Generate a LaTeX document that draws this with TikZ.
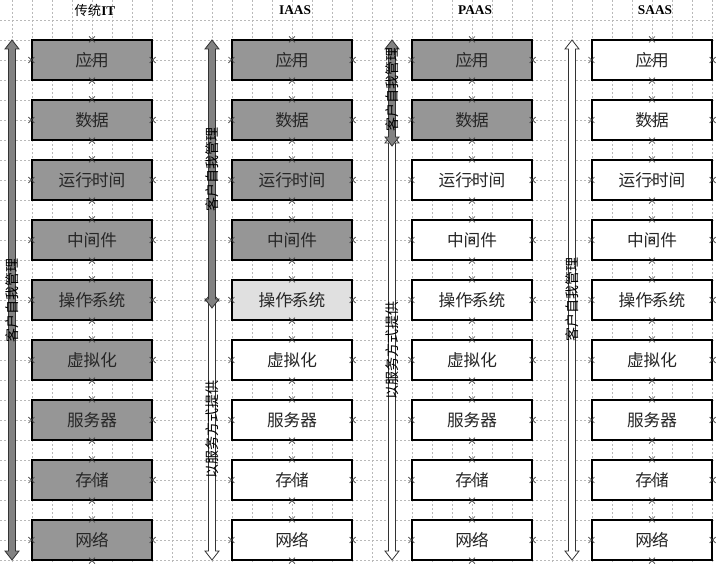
\documentclass[tikz,border=0pt]{standalone}
\usepackage{fontspec}
\setmainfont{Liberation Serif}
\newfontfamily\cjk{Noto Sans CJK SC}
\usetikzlibrary{shapes.misc}

\definecolor{boxgray}{RGB}{150,150,150}
\definecolor{osgray}{RGB}{224,224,224}
\definecolor{arrgray}{RGB}{130,130,130}
\definecolor{gridgray}{RGB}{185,185,185}

\tikzset{
  layer/.style={draw=black, line width=0.8pt, minimum width=90pt, minimum height=30pt,
    inner sep=0pt, font=\cjk\fontsize{12.5}{12.5}\selectfont, text=black!85},
  colhead/.style={font=\bfseries\fontsize{10}{10}\selectfont, inner sep=0pt},
  cpt/.style={cross out, draw=black!75, line width=0.5pt, minimum size=4pt, inner sep=0pt},
  vlabel/.style={rotate=90, font=\cjk\fontsize{10.5}{10.5}\selectfont, inner sep=0pt},
  gridline/.style={draw=gridgray, line width=0.5pt, dash pattern=on 1.5pt off 1.5pt},
}

% block arrow with two heads: fill, x, top, bottom (pixels)
\newcommand{\dblarrow}[4]{%
  \filldraw[fill=#1, draw=black!80, line width=0.6pt, line join=miter]
    (#2,#3) -- ({#2+7},{#3+9}) -- ({#2+3.5},{#3+9}) -- ({#2+3.5},{#4-9})
    -- ({#2+7},{#4-9}) -- (#2,#4) -- ({#2-7},{#4-9}) -- ({#2-3.5},{#4-9})
    -- ({#2-3.5},{#3+9}) -- ({#2-7},{#3+9}) -- cycle;}

\begin{document}
\begin{tikzpicture}[x=0.75pt, y=-0.75pt]

    \fill[white] (0,0) rectangle (716,563);
    \useasboundingbox (0,0) rectangle (716,563);

    % Background grid
    \foreach \gx in {12,32,...,712}
    \draw[gridline] (\gx,0) -- (\gx,563);
    \foreach \gy in {20,40,...,560}
    \draw[gridline] (0,\gy) -- (716,\gy);

    % Arrows
    \dblarrow{arrgray}{12}{40}{560}
    \dblarrow{white}{212}{292}{560}
    \dblarrow{arrgray}{212}{40}{308}
    \dblarrow{white}{392}{134}{560}
    \dblarrow{arrgray}{392}{40}{146}
    \dblarrow{white}{572}{40}{560}

    % Arrow labels
    \node[vlabel] (itSelf) at (12,300) {客户自我管理};
    \node[vlabel] (iaSelf) at (212,169) {客户自我管理};
    \node[vlabel] (iaServ) at (212,429) {以服务方式提供};
    \node[vlabel] (paSelf) at (392,90) {客户自我管理};
    \node[vlabel] (paServ) at (392,350) {以服务方式提供};
    \node[vlabel] (saSelf) at (572,299) {客户自我管理};

    % Columns of layers
    \foreach \col/\cx/\ng/\nl/\hd in {IT/92/9/0/{{\cjk\mdseries 传统}IT}, IA/292/4/5/IAAS,
                                      PA/472/2/0/PAAS, SA/652/0/0/SAAS} {
        \node[colhead] (h\col) at ({\cx+3},10) {\hd};
        \foreach \t [count=\i] in {应用,数据,运行时间,中间件,操作系统,虚拟化,服务器,存储,网络} {
            \ifnum\i>\ng \def\bx{white}\else \def\bx{boxgray}\fi
            \ifnum\i=\nl \def\bx{osgray}\fi
            \node[layer, fill=\bx] (\col\i) at (\cx,{60*\i}) {\t};
            \foreach \a in {north,south,east,west,center}
            \node[cpt] at (\col\i.\a) {};
        }
    }

\end{tikzpicture}
\end{document}
